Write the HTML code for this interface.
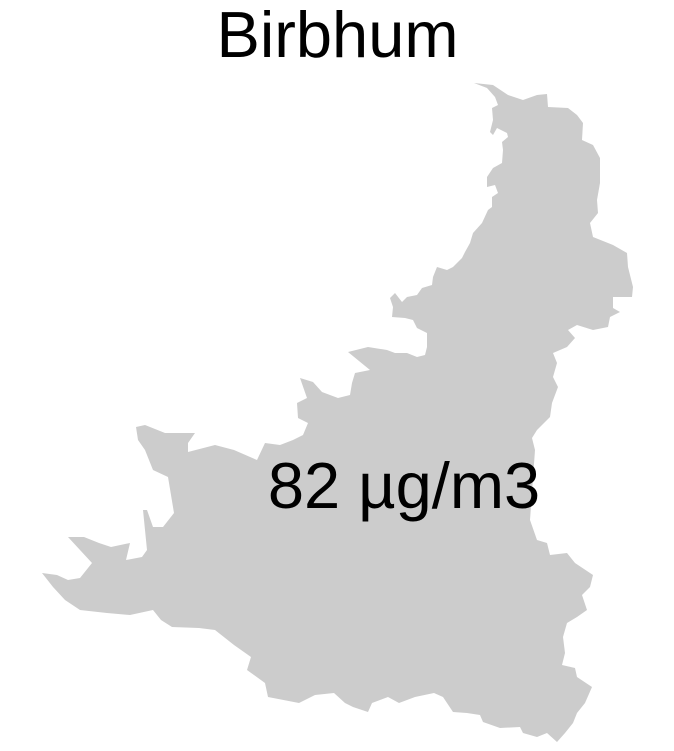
<!DOCTYPE html>
<html><head><meta charset="utf-8"><style>
html,body{margin:0;padding:0;background:#fff;}
svg{display:block;font-family:"Liberation Sans",Arial,sans-serif;}
</style></head><body>
<svg width="674" height="751" viewBox="0 0 674 751">
<text x="337.5" y="57" text-anchor="middle" font-size="65" fill="#000">Birbhum</text>
<path fill="#cccccc" d="M474,83 L493,85 L508,95 L523,100 L537,95 L547,94 L548,107 L568,108 L577,115 L583,123 L582,140 L593,145 L600,158 L600,183 L597,200 L598,213 L590,223 L593,237 L613,245 L627,253 L628,267 L633,287 L632,297 L613,297 L613,308 L620,312 L610,317 L608,327 L593,330 L577,325 L568,330 L575,338 L567,347 L553,353 L557,363 L553,377 L558,387 L552,403 L550,417 L537,430 L532,438 L535,450 L530,520 L537,540 L547,543 L550,555 L567,553 L575,563 L593,575 L590,587 L582,595 L587,610 L577,617 L567,623 L563,637 L565,653 L562,665 L575,668 L577,677 L592,687 L585,703 L577,713 L573,723 L565,733 L557,742 L547,733 L537,737 L523,733 L520,727 L500,728 L483,722 L480,715 L467,713 L453,712 L443,697 L434,693 L415,697 L399,703 L388,697 L372,703 L368,712 L353,707 L345,703 L334,693 L315,695 L299,703 L268,697 L265,683 L247,670 L251,657 L234,645 L215,630 L199,628 L172,627 L161,620 L153,610 L130,615 L107,613 L80,610 L65,600 L53,587 L42,573 L57,575 L68,580 L80,578 L92,563 L80,550 L68,537 L84,537 L99,543 L111,547 L130,543 L126,560 L142,557 L147,550 L143,510 L147,510 L153,527 L163,527 L174,513 L168,477 L153,470 L145,450 L138,440 L136,427 L145,425 L165,433 L195,433 L188,443 L188,452 L215,445 L234,450 L257,460 L265,443 L280,445 L293,440 L303,435 L308,423 L298,418 L297,403 L307,398 L300,378 L313,382 L322,392 L338,398 L350,395 L352,383 L355,373 L370,370 L348,352 L368,347 L387,350 L395,353 L407,353 L417,357 L425,355 L427,347 L427,333 L417,328 L413,320 L405,318 L392,317 L393,307 L390,298 L395,293 L402,302 L407,297 L417,295 L422,288 L432,285 L433,277 L437,267 L447,270 L453,267 L462,258 L465,252 L470,243 L473,233 L482,223 L488,210 L492,207 L492,197 L498,193 L495,185 L487,187 L487,177 L493,168 L502,163 L503,150 L502,142 L508,137 L507,133 L497,128 L493,135 L490,132 L493,120 L492,108 L498,105 L495,97 L487,88 Z"/>
<text x="404" y="508" text-anchor="middle" font-size="65" fill="#000">82 µg/m3</text>
</svg>
</body></html>
